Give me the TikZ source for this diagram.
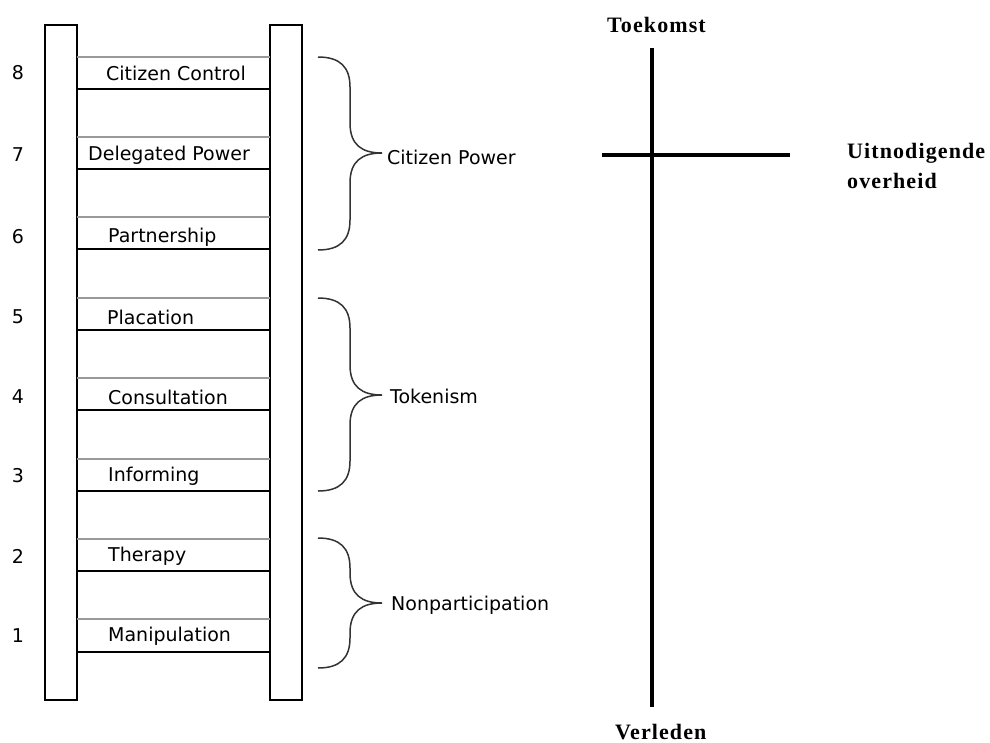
\documentclass[tikz,border=0pt]{standalone}
\usepackage{fontspec}
\setmainfont{DejaVu Sans}
\newfontfamily\axisfont[LetterSpace=5]{Liberation Serif}
\begin{document}
\begin{tikzpicture}[x=1pt,y=-1pt,
  rail/.style={draw=black,line width=1.6pt,fill=white},
  rungtop/.style={draw=gray!80,line width=1.8pt},
  rungbot/.style={draw=black,line width=2.4pt},
  steplabel/.style={anchor=west,inner sep=0pt,font=\fontsize{19}{21}\selectfont},
  stepnum/.style={inner sep=0pt,font=\fontsize{19}{21}\selectfont},
  grouplabel/.style={anchor=west,inner sep=0pt,font=\fontsize{19}{21}\selectfont},
  bracket/.style={draw=black!80,line width=1.5pt},
  axis/.style={draw=black,line width=4pt},
  axislabel/.style={inner sep=0pt,font=\fontsize{22}{24}\selectfont\axisfont\bfseries}]
\useasboundingbox (0,0) rectangle (990,742);
\fill[white] (0,0) rectangle (990,742);

% ladder rails
\draw[rail] (45,25) rectangle (77,700);
\draw[rail] (270,25) rectangle (302,700);

% rungs: grey upper edge, black lower edge
\foreach \yt/\yb in {57/89,137/169,217/249,298/330,378/410,459/491,539/571,619/652}{
  \draw[rungtop] (77,\yt) -- (270,\yt);
  \draw[rungbot] (77,\yb) -- (270,\yb);
}

% rung numbers
\foreach \n/\y in {8/73,7/155,6/237,5/317,4/397,3/476,2/556,1/636}{
  \node[stepnum] (num\n) at (18,\y) {\n};
}

% rung names
\node[steplabel] (s8) at (106,73) {Citizen Control};
\node[steplabel] (s7) at (88,155) {Delegated Power};
\node[steplabel] (s6) at (108,237) {Partnership};
\node[steplabel] (s5) at (107,317) {Placation};
\node[steplabel] (s4) at (108,397) {Consultation};
\node[steplabel] (s3) at (108,476) {Informing};
\node[steplabel] (s2) at (108,556) {Therapy};
\node[steplabel] (s1) at (108,636) {Manipulation};

% curly brackets grouping the rungs
\foreach \ya/\ym/\yb in {57/153/250, 298/395/491, 538/603/668}{
  \draw[bracket] (318,\ya) .. controls (340,\ya) and (350,\ya+10) .. (350,\ya+30)
    -- (350,\ym-30) .. controls (350,\ym-8) and (362,\ym) .. (382,\ym)
    .. controls (362,\ym) and (350,\ym+8) .. (350,\ym+30)
    -- (350,\yb-30) .. controls (350,\yb-10) and (340,\yb) .. (318,\yb);
}
\node[grouplabel] (g3) at (387,157) {Citizen Power};
\node[grouplabel] (g2) at (390,396) {Tokenism};
\node[grouplabel] (g1) at (391,605) {Nonparticipation};

% time / government axes
\coordinate (vtop) at (652,48);
\coordinate (vbot) at (652,707);
\coordinate (hleft) at (602,155);
\coordinate (hright) at (790,155);
\draw[axis] (vtop) -- (vbot);
\draw[axis] (hleft) -- (hright);
\node[axislabel,anchor=base west] (future) at (607,32) {Toekomst};
\node[axislabel,anchor=base west] (past) at (615,739) {Verleden};
\node[axislabel,anchor=base west] (gov1) at (847,158) {Uitnodigende};
\node[axislabel,anchor=base west] (gov2) at (847,188) {overheid};
\end{tikzpicture}
\end{document}
